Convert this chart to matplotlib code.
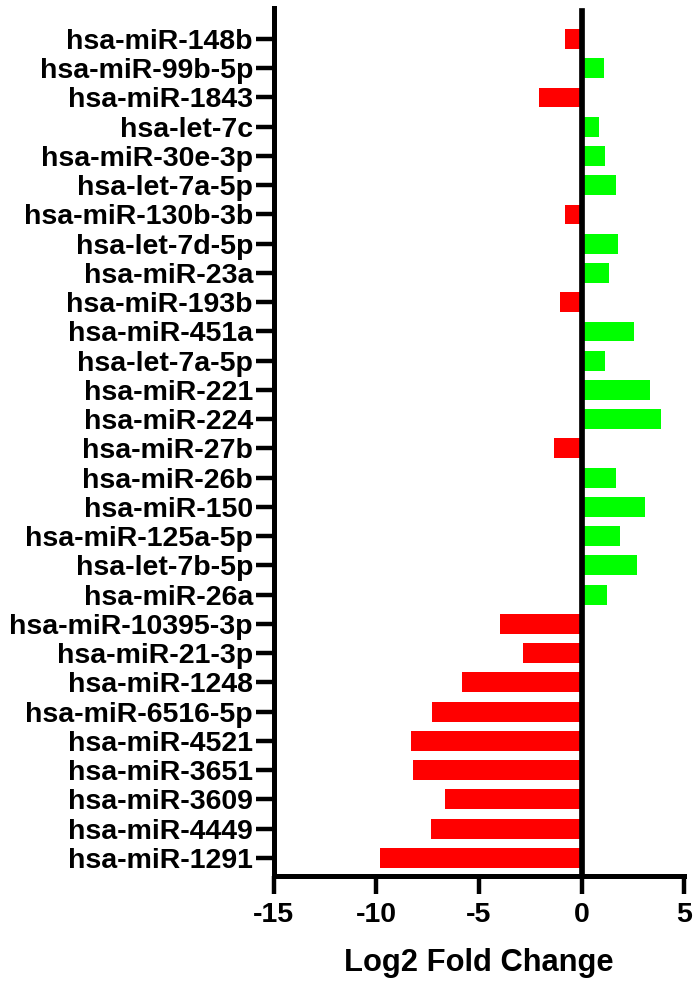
import matplotlib.pyplot as plt

mirnas = [
    "hsa-miR-148b", "hsa-miR-99b-5p", "hsa-miR-1843", "hsa-let-7c",
    "hsa-miR-30e-3p", "hsa-let-7a-5p", "hsa-miR-130b-3b", "hsa-let-7d-5p",
    "hsa-miR-23a", "hsa-miR-193b", "hsa-miR-451a", "hsa-let-7a-5p",
    "hsa-miR-221", "hsa-miR-224", "hsa-miR-27b", "hsa-miR-26b",
    "hsa-miR-150", "hsa-miR-125a-5p", "hsa-let-7b-5p", "hsa-miR-26a",
    "hsa-miR-10395-3p", "hsa-miR-21-3p", "hsa-miR-1248", "hsa-miR-6516-5p",
    "hsa-miR-4521", "hsa-miR-3651", "hsa-miR-3609", "hsa-miR-4449",
    "hsa-miR-1291",
]
log2fc = [
    -0.80, 1.07, -2.06, 0.86,
    1.14, 1.68, -0.80, 1.79,
    1.32, -1.04, 2.56, 1.14,
    3.32, 3.89, -1.32, 1.68,
    3.09, 1.87, 2.70, 1.24,
    -3.98, -2.84, -5.83, -7.27,
    -8.29, -8.21, -6.68, -7.35,
    -9.83,
]
xticks = [-15, -10, -5, 0, 5]

plt.rcParams["font.family"] = ["Liberation Sans", "DejaVu Sans"]
plt.rcParams["font.weight"] = "bold"

fig = plt.figure(figsize=(6.95, 9.83), dpi=100)
ax = fig.add_axes([0.394, 0.1088, 0.5904, 0.8831])

ypos = list(range(len(mirnas)))
colors = ["#ff0000" if v < 0 else "#00ff00" for v in log2fc]
ax.barh(ypos, log2fc, height=0.68, color=colors, zorder=2)
ax.axvline(0, ymin=0, ymax=0.9965, color="black", linewidth=4.1, zorder=3)

ax.set_xlim(-15, 5)
ax.set_ylim(len(mirnas) - 1 + 0.62, -1.06)
ax.set_xticks(xticks)
ax.set_xticklabels([str(t) for t in xticks], fontsize=20.5, fontweight="bold")
ax.set_yticks(ypos)
ax.set_yticklabels(mirnas, fontsize=20.5, fontweight="bold")
ax.set_xlabel("Log2 Fold Change", fontsize=22.2, fontweight="bold", labelpad=14)

for side in ["top", "right"]:
    ax.spines[side].set_visible(False)
for side in ["left", "bottom"]:
    ax.spines[side].set_linewidth(3.6)
ax.tick_params(axis="both", length=13, width=3.2, pad=2)
ax.tick_params(axis="x", pad=6)

fig.savefig("out.png", dpi=100)
